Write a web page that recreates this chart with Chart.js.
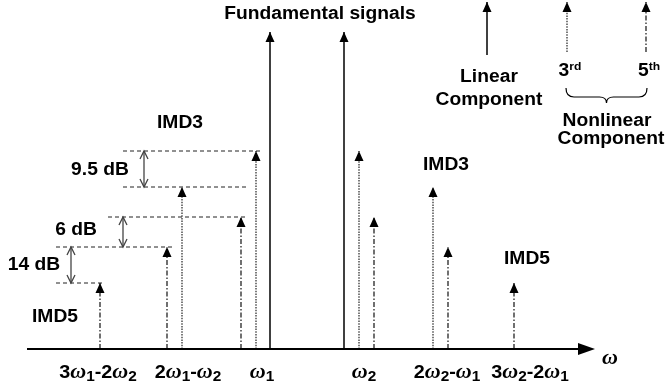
<!DOCTYPE html>
<html>
<head>
<meta charset="utf-8">
<script src="https://cdn.jsdelivr.net/npm/chart.js@4.4.1/dist/chart.umd.min.js"></script>
<style>
  body { margin: 0; background: #fff; }
</style>
</head>
<body>
<canvas id="chart" width="665" height="387"></canvas>
<script>
// spectral lines: position on the frequency axis and level above the baseline
const linearX = [270, 344];
const linearLevel = [317, 317];
const thirdX = [182, 256, 359, 433];
const thirdLevel = [162, 198, 198, 162];
const fifthX = [100, 167, 241, 374, 448, 514];
const fifthLevel = [66, 102, 132, 132, 102, 66];

// frequency labels under the axis
const tickX = [98, 188, 262, 364, 447, 530];
const tickLabels = ["3ω1-2ω2", "2ω1-ω2", "ω1", "ω2", "2ω2-ω1", "3ω2-2ω1"];

// level guides on the left and the dB gaps between them
const guideLevel = [198, 162, 132, 102, 66];
const guideFrom = [123, 123, 108, 56, 56];
const guideTo = [262, 249, 248, 175, 105];
const gapX = [144, 123, 71];
const gapTop = [198, 132, 102];
const gapBottom = [162, 102, 66];
const gapLabels = ["9.5 dB", "6 dB", "14 dB"];
const gapLabelX = [100, 76, 34];
const gapLabelLevel = [180, 120, 85];

// key in the top right corner
const keyX = [487, 567, 646];
const keyBase = [294, 297, 297];
const keyTop = 347;
const keyOrder = ["3", "5"];
const keySuffix = ["rd", "th"];

// free text
const notes = ["Fundamental signals", "IMD3", "IMD3", "IMD5", "IMD5", "Linear", "Component", "Nonlinear", "Component"];
const noteX = [320, 180, 446, 55, 527, 489, 489, 607, 611];
const noteLevel = [336, 227, 185, 33, 91, 273, 250, 229, 211];

const SANS = "'Liberation Sans', Arial, sans-serif";
const STRETCH = 1.1;

const styles = {
    linear: { borderColor: "#000", borderWidth: 1.5, borderDash: [] },
    third: { borderColor: "#333", borderWidth: 1.3, borderDash: [1.5, 1.2] },
    fifth: { borderColor: "#111", borderWidth: 1.2, borderDash: [5, 2, 1.5, 2] },
};

function stem(x, base, top, kind) {
    return {
        data: [{ x, y: base }, { x, y: top }],
        showLine: true,
        pointRadius: 0,
        head: true,
        ...styles[kind],
    };
}

function guide(level, from, to) {
    return {
        data: [{ x: from, y: level }, { x: to, y: level }],
        showLine: true,
        pointRadius: 0,
        borderColor: "#222",
        borderWidth: 1,
        borderDash: [4, 3],
    };
}

const datasets = [
    ...guideLevel.map((l, i) => guide(l, guideFrom[i], guideTo[i])),
    ...linearX.map((x, i) => stem(x, 0, linearLevel[i], "linear")),
    ...thirdX.map((x, i) => stem(x, 0, thirdLevel[i], "third")),
    ...fifthX.map((x, i) => stem(x, 0, fifthLevel[i], "fifth")),
    ...["linear", "third", "fifth"].map((k, i) => stem(keyX[i], keyBase[i], keyTop, k)),
];

function omegaRuns(s, size) {
    const runs = [];
    let prev = "";
    for (const ch of s) {
        if (ch === "ω") {
            runs.push({ t: ch, font: `italic bold ${size + 2}px 'Liberation Serif', serif`, dy: 0 });
        } else if (/\d/.test(ch) && prev === "ω") {
            runs.push({ t: ch, font: `bold ${size - 4}px ${SANS}`, dy: 3 });
        } else {
            const last = runs[runs.length - 1];
            if (last && last.plain) last.t += ch;
            else runs.push({ t: ch, font: `bold ${size}px ${SANS}`, dy: 0, plain: true });
        }
        prev = ch;
    }
    return runs;
}

function drawRuns(ctx, runs, cx, cy, size) {
    ctx.save();
    ctx.textBaseline = "alphabetic";
    ctx.fillStyle = "#000";
    let total = 0;
    runs.forEach(r => { ctx.font = r.font; r.w = ctx.measureText(r.t).width; total += r.w; });
    ctx.translate(cx, cy + size * 0.36);
    ctx.scale(STRETCH, 1);
    let xx = -total / 2;
    runs.forEach(r => {
        ctx.font = r.font;
        ctx.fillText(r.t, xx, r.dy);
        xx += r.w;
    });
    ctx.restore();
}

function chevron(ctx, x, y, dir) {
    ctx.beginPath();
    ctx.moveTo(x - 4, y + dir * 8);
    ctx.lineTo(x, y);
    ctx.lineTo(x + 4, y + dir * 8);
    ctx.stroke();
}

const spectrumArt = {
    id: "spectrumArt",
    afterDatasetsDraw(chart) {
        const { ctx, scales: { x, y } } = chart;
        const px = v => x.getPixelForValue(v);
        const py = v => y.getPixelForValue(v);

        // arrow heads on every spectral line
        chart.data.datasets.forEach((ds, i) => {
            if (!ds.head) return;
            const tip = chart.getDatasetMeta(i).data[1];
            ctx.save();
            ctx.fillStyle = "#000";
            ctx.beginPath();
            ctx.moveTo(tip.x, tip.y);
            ctx.lineTo(tip.x - 4.5, tip.y + 10);
            ctx.lineTo(tip.x + 4.5, tip.y + 10);
            ctx.closePath();
            ctx.fill();
            ctx.restore();
        });

        // frequency axis
        const y0 = py(0);
        const xEnd = px(595);
        ctx.save();
        ctx.strokeStyle = "#000";
        ctx.lineWidth = 2;
        ctx.beginPath();
        ctx.moveTo(px(27), y0);
        ctx.lineTo(xEnd - 10, y0);
        ctx.stroke();
        ctx.beginPath();
        ctx.moveTo(xEnd, y0);
        ctx.lineTo(xEnd - 17, y0 - 6);
        ctx.lineTo(xEnd - 17, y0 + 6);
        ctx.closePath();
        ctx.fill();
        ctx.restore();

        // dB gaps
        ctx.save();
        ctx.strokeStyle = "#444";
        ctx.lineWidth = 1.3;
        gapX.forEach((gx, i) => {
            const xx = px(gx), yt = py(gapTop[i]), yb = py(gapBottom[i]);
            ctx.beginPath();
            ctx.moveTo(xx, yt);
            ctx.lineTo(xx, yb);
            ctx.stroke();
            chevron(ctx, xx, yt, 1);
            chevron(ctx, xx, yb, -1);
        });
        ctx.restore();
        gapLabels.forEach((t, i) => drawRuns(ctx, [{ t, font: `bold 17.5px ${SANS}`, dy: 0 }], px(gapLabelX[i]), py(gapLabelLevel[i]), 17.5));

        // tick labels and axis name
        tickLabels.forEach((t, i) => drawRuns(ctx, omegaRuns(t, 18), px(tickX[i]), py(-23), 18));
        drawRuns(ctx, omegaRuns("ω", 18), px(610), py(-11), 12);

        // free text
        notes.forEach((t, i) => drawRuns(ctx, [{ t, font: `bold 17.5px ${SANS}`, dy: 0 }], px(noteX[i]), py(noteLevel[i]), 17.5));

        // key: order labels and brace
        keyOrder.forEach((o, i) => {
            drawRuns(ctx, [
                { t: o, font: `bold 17.5px ${SANS}`, dy: 0 },
                { t: keySuffix[i], font: `bold 11px ${SANS}`, dy: -6 },
            ], px(keyX[i + 1] + 3), py(279), 17.5);
        });
        const bx0 = px(566), bx1 = px(647), bm = (bx0 + bx1) / 2;
        const bt = py(261), bmid = py(252), bb = py(246);
        ctx.save();
        ctx.strokeStyle = "#000";
        ctx.lineWidth = 1.2;
        ctx.beginPath();
        ctx.moveTo(bx0, bt);
        ctx.quadraticCurveTo(bx0, bmid, bx0 + 8, bmid);
        ctx.lineTo(bm - 7, bmid);
        ctx.quadraticCurveTo(bm, bmid, bm, bb);
        ctx.quadraticCurveTo(bm, bmid, bm + 7, bmid);
        ctx.lineTo(bx1 - 8, bmid);
        ctx.quadraticCurveTo(bx1, bmid, bx1, bt);
        ctx.stroke();
        ctx.restore();
    }
};

new Chart(document.getElementById("chart"), {
    type: "scatter",
    data: { datasets },
    options: {
        responsive: false,
        animation: false,
        layout: { padding: 0 },
        plugins: { legend: { display: false }, tooltip: { enabled: false } },
        scales: {
            x: { type: "linear", min: 0, max: 665, display: false },
            y: { type: "linear", min: -38, max: 349, display: false },
        },
    },
    plugins: [spectrumArt],
});
</script>
</body>
</html>
